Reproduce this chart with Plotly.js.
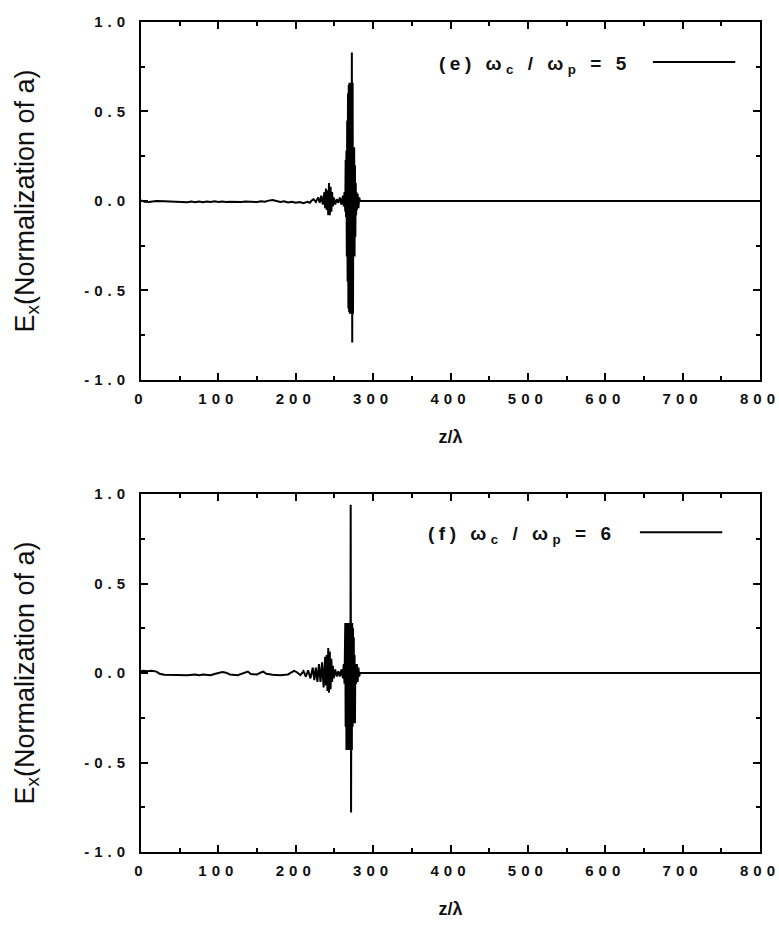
<!DOCTYPE html>
<html><head><meta charset="utf-8">
<script src="https://cdn.plot.ly/plotly-3.0.1.min.js"></script>
<style>
body{margin:0;background:#fff}
#chart{width:779px;height:927px}
.xtick text,.x2tick text,.ytick text,.y2tick text{letter-spacing:5px}
.annotation-text{letter-spacing:4.5px}
</style></head><body><div id="chart"></div>
<script>
// Panel (e): omega_c / omega_p = 5
const zE = [
  0,5,10,15,20,30,40,50,55,60,
  65,70,75,80,85,90,95,100,105,110,
  115,120,125,130,135,140,145,150,155,160,
  165,170,175,180,185,190,195,200,205,210,
  215,218,220,223,226,229,231,233,235,237,
  238,239,240,241,242,243,244,245,246,247,
  248,249,251,253,255,257,259,261,262,263,
  264,264.5,265,265.5,266,266.5,267,267.5,268,268.5,
  269,269.5,270,270.5,271,271.5,272,272.5,273,273.5,
  274,274.5,275,275.5,276,276.5,277,277.5,278,278.5,
  279,280,281,282,283,800];
const exE = [
  0.003,-0.004,-0.006,-0.004,0,-0.002,-0.004,-0.006,-0.003,-0.007,
  -0.003,-0.007,-0.003,-0.007,-0.003,-0.006,-0.002,-0.006,-0.003,-0.006,
  -0.004,-0.006,-0.004,-0.006,-0.003,-0.005,-0.004,-0.006,-0.002,-0.004,
  0.002,0.006,0.0,-0.006,-0.002,-0.008,-0.004,-0.01,-0.006,-0.012,
  -0.005,-0.01,0.0,0.01,-0.005,0.02,-0.01,0.03,-0.02,0.05,
  -0.04,0.07,-0.05,0.06,-0.08,0.10,-0.08,0.08,-0.06,0.05,
  -0.03,0.02,-0.02,0.01,-0.01,0.02,-0.02,0.03,-0.03,0.05,
  -0.06,0.23,-0.09,0.28,-0.31,0.45,-0.45,0.6,-0.6,0.65,
  -0.62,0.66,-0.63,0.65,-0.63,0.66,-0.63,0.83,-0.79,0.66,
  -0.63,0.3,-0.31,0.3,-0.31,0.2,-0.2,0.1,-0.08,0.05,
  -0.05,0.04,-0.04,0.02,0,0];
// Panel (f): omega_c / omega_p = 6
const zF = [
  0,3,8,14,20,24,30,40,50,60,
  70,75,80,90,95,100,105,110,115,125,
  130,135,138,142,150,155,158,162,170,180,
  190,195,198,202,206,210,213,216,219,222,
  224,226,228,230,232,234,236,238,239,240,
  241,242,243,244,245,246,247,248,249,251,
  253,255,257,259,261,262,263,264,264.5,265,
  265.5,266,266.5,267,267.5,268,268.5,269,269.5,270,
  270.5,271,271.5,272,272.5,273,273.5,274,274.5,275,
  275.5,276,276.5,277,278,279,280,281,282,283,
  800];
const exF = [
  0.01,0.012,0.01,0.013,0.008,-0.004,-0.01,-0.012,-0.01,-0.012,
  -0.008,-0.012,-0.009,-0.012,-0.006,-0.002,0.006,0.002,-0.008,-0.012,
  -0.006,0.004,0.008,-0.006,-0.008,0.003,0.008,-0.004,-0.01,-0.012,
  -0.008,0.005,0.012,0.003,-0.012,0.01,-0.02,0.015,-0.03,0.03,
  -0.04,0.03,-0.05,0.05,-0.05,0.06,-0.08,0.09,-0.07,0.1,
  -0.1,0.14,-0.11,0.12,-0.09,0.08,-0.05,0.04,-0.03,0.02,
  -0.02,0.01,-0.02,0.02,-0.03,0.05,-0.06,0.28,-0.3,0.28,
  -0.43,0.28,-0.43,0.28,-0.43,0.28,-0.43,0.28,-0.43,0.28,
  -0.43,0.94,-0.78,0.28,-0.43,0.28,-0.3,0.25,-0.28,0.2,
  -0.28,0.1,-0.28,0.05,-0.06,0.05,-0.05,0.03,-0.02,0,
  0];
const yTickVals = [-1,-0.5,0,0.5,1];
const yTickText = ['-1.0','-0.5','0.0','0.5','1.0'];
const xTickVals = [0,100,200,300,400,500,600,700,800];
const xTickText = ['0','100','200','300','400','500','600','700','800'];
const labelE = '(e) ω<sub>c</sub> / ω<sub>p</sub> = 5';
const labelF = '(f) ω<sub>c</sub> / ω<sub>p</sub> = 6';
const xTitle = 'z/λ';
const yTitle = 'E<sub>x</sub>(Normalization of a)';

const tickFont = {family:'Liberation Sans, Arial, sans-serif', size:15, color:'#111', weight:'bold'};
function xAxis(anchor){
  return {anchor:anchor, range:[0,800], tickmode:'array', tickvals:xTickVals, ticktext:xTickText,
    ticks:'inside', ticklen:7, tickwidth:2, tickcolor:'#000', showline:true, linewidth:2, linecolor:'#000',
    mirror:'ticks', showgrid:false, zeroline:false, ticklabelstandoff:4, ticklabeloverflow:'allow',
    minor:{ticks:'inside', ticklen:4, tickwidth:2, tickcolor:'#000', dtick:50, tick0:0},
    tickfont:tickFont,
    title:{text:xTitle, font:{family:'Liberation Sans, Arial, sans-serif', size:18, color:'#111', weight:'bold'}, standoff:24}};
}
function yAxis(anchor, domain){
  return {anchor:anchor, domain:domain, range:[-1,1], tickmode:'array', tickvals:yTickVals, ticktext:yTickText,
    ticks:'inside', ticklen:7, tickwidth:2, tickcolor:'#000', showline:true, linewidth:2, linecolor:'#000',
    mirror:'ticks', showgrid:false, zeroline:false, ticklabelstandoff:6, ticklabeloverflow:'allow',
    minor:{ticks:'inside', ticklen:4, tickwidth:2, tickcolor:'#000', dtick:0.25, tick0:0},
    tickfont:tickFont,
    title:{text:yTitle, font:{family:'Liberation Sans, Arial, sans-serif', size:27, color:'#111'}, standoff:42}};
}
const data = [
  {x:zE, y:exE, xaxis:'x', yaxis:'y', type:'scatter', mode:'lines', line:{color:'#000', width:2}, showlegend:false},
  {x:zF, y:exF, xaxis:'x2', yaxis:'y2', type:'scatter', mode:'lines', line:{color:'#000', width:2}, showlegend:false}
];
const annFont = {family:'Liberation Sans, Arial, sans-serif', size:19, color:'#111', weight:'bold'};
const layout = {
  width:779, height:927, paper_bgcolor:'#fff', plot_bgcolor:'#fff',
  margin:{l:141, r:19, t:22, b:75},
  showlegend:false,
  xaxis:xAxis('y'), yaxis:yAxis('x',[0.5687,1]),
  xaxis2:xAxis('y2'), yaxis2:yAxis('x2',[0,0.4313]),
  annotations:[
    {xref:'x domain', yref:'y domain', x:0.6365, y:0.88, xanchor:'center', yanchor:'middle', text:labelE, showarrow:false, font:annFont},
    {xref:'x2 domain', yref:'y2 domain', x:0.6155, y:0.885, xanchor:'center', yanchor:'middle', text:labelF, showarrow:false, font:annFont}
  ],
  shapes:[
    {type:'line', xref:'x domain', yref:'y domain', x0:0.827, x1:0.96, y0:0.888, y1:0.888, line:{color:'#000', width:2}},
    {type:'line', xref:'x2 domain', yref:'y2 domain', x0:0.806, x1:0.939, y0:0.893, y1:0.893, line:{color:'#000', width:2}}
  ]
};
Plotly.newPlot('chart', data, layout, {staticPlot:true, displayModeBar:false});
</script></body></html>
